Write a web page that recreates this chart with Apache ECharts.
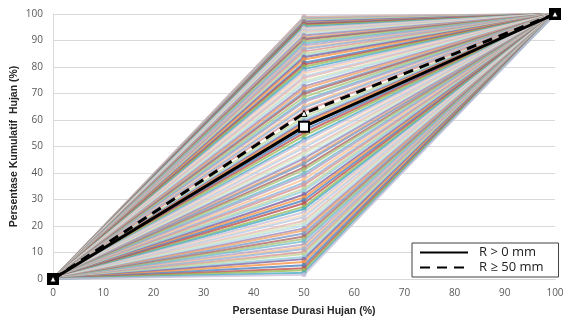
<!DOCTYPE html>
<html lang="id">
<head>
    <meta charset="UTF-8">
    <title>Persentase Kumulatif Hujan</title>
    <script src="https://cdn.jsdelivr.net/npm/echarts@6/dist/echarts.min.js"></script>
    <style>
        html, body { margin: 0; padding: 0; background: #fff; }
        #chart { width: 567px; height: 325px; }
    </style>
</head>
<body>
    <div id="chart"></div>

    <script>
        // durasi hujan (%) - titik awal, tengah, akhir
        var durasi = [0, 50, 100];

        // kumulatif hujan (%) di durasi 50% untuk tiap kejadian hujan
        var nilaiTengah = [
            99, 98.7, 98.4, 98.0, 97.8, 97.4, 97.1, 96.6, 96.3, 96.0, 95.6, 95.2,
            94.7, 94.2, 93.9, 93.2, 92.8, 92.3, 91.9, 91.1, 90.7, 90.4, 89.6, 88.9,
            88.1, 87.3, 86.8, 85.9, 85.0, 84.2, 83.7, 82.8, 81.6, 80.9, 80.1, 79.2,
            78.3, 77.5, 76.4, 75.8, 74.6, 73.9, 72.7, 71.8, 70.6, 69.9, 68.7, 67.5,
            66.8, 65.4, 64.6, 63.3, 61.2, 60.1, 59.3, 58.6, 56.2, 55.1, 54.0, 52.7,
            51.8, 50.4, 49.6, 48.2, 47.3, 46.1, 45.4, 44.2, 43.5, 42.1, 41.2, 39.8,
            38.9, 37.6, 36.3, 35.4, 34.1, 33.2, 31.9, 30.8, 29.7, 28.6, 27.3, 26.4,
            25.2, 24.1, 23.3, 22.0, 21.1, 20.2, 19.1, 18.3, 17.2, 16.0, 15.1, 14.2,
            13.0, 12.1, 11.3, 10.2, 9.4, 8.3, 7.5, 6.4, 5.2, 4.1, 3.3, 2.4, 1.6
        ];

        // kurva rata-rata
        var rataSemua = [0, 57.5, 100];     // R > 0 mm
        var rataLebat = [0, 62.5, 100];     // R >= 50 mm

        var warna = [
            '#B3A2C7', '#FAC090', '#95B3D7', '#D99694', '#C3D69B', '#93CDDD',
            '#8064A2', '#F79646', '#4F81BD', '#C0504D', '#9BBB59', '#4BACC6',
            '#CCC1DA', '#FCD5B5', '#B9CDE5', '#E6B9B8', '#D7E4BD', '#B7DEE8',
            '#A08BBA', '#EFA46A', '#7A9CC8', '#B06866', '#A9C47A', '#72BCD0'
        ];

        var fontTick = "'Open Sans', sans-serif";
        var fontJudul = "'Liberation Sans', sans-serif";

        var series = [];
        nilaiTengah.forEach(function (v, i) {
            series.push({
                type: 'line',
                name: 'kejadian ' + (i + 1),
                data: durasi.map(function (x, j) {
                    return [x, j === 1 ? v : (j === 0 ? 0 : 100)];
                }),
                symbol: 'circle',
                symbolSize: 5,
                silent: true,
                z: 2,
                lineStyle: { width: 2, color: warna[i % warna.length], opacity: 0.8 },
                itemStyle: { color: warna[i % warna.length], opacity: 0.8 }
            });
        });

        // ujung kurva rata-rata diberi kotak hitam, tengahnya kotak putih
        series.push({
            type: 'line',
            name: 'R > 0 mm',
            data: durasi.map(function (x, j) {
                return {
                    value: [x, rataSemua[j]],
                    itemStyle: { color: j === 1 ? '#fff' : '#000' }
                };
            }),
            symbol: 'rect',
            symbolSize: 10,
            z: 5,
            lineStyle: { width: 3, color: '#000' },
            itemStyle: { color: '#fff', borderColor: '#000', borderWidth: 2 }
        });
        series.push({
            type: 'line',
            name: 'R ≥ 50 mm',
            data: durasi.map(function (x, j) { return [x, rataLebat[j]]; }),
            symbol: 'triangle',
            symbolSize: 6,
            z: 6,
            lineStyle: { width: 3, color: '#000', type: [10, 7] },
            itemStyle: { color: '#fff', borderColor: '#000', borderWidth: 1 }
        });

        var chart = echarts.init(document.getElementById('chart'));
        chart.setOption({
            animation: false,
            grid: { left: 53, right: 12, top: 14, bottom: 46, outerBoundsMode: 'none' },
            legend: {
                data: ['R > 0 mm', 'R ≥ 50 mm'],
                orient: 'vertical',
                left: 412,
                top: 243,
                itemWidth: 48,
                itemHeight: 12,
                itemGap: 2,
                padding: [3, 15, 3, 7],
                backgroundColor: '#fff',
                borderColor: '#404040',
                borderWidth: 1,
                itemStyle: { opacity: 0 },
                textStyle: { fontFamily: fontTick, fontSize: 13, color: '#222', padding: [0, 0, 0, 6] }
            },
            xAxis: {
                type: 'value',
                min: 0,
                max: 100,
                interval: 10,
                name: 'Persentase Durasi Hujan (%)',
                nameLocation: 'middle',
                nameGap: 27,
                nameMoveOverlap: false,
                nameTextStyle: { fontFamily: fontJudul, fontWeight: 'bold', fontSize: 10.5, color: '#262626' },
                axisLine: { show: true, lineStyle: { color: '#d9d9d9' } },
                axisTick: { show: false },
                splitLine: { show: false },
                axisLabel: { margin: 9, fontFamily: fontTick, fontSize: 10, color: '#595959' }
            },
            yAxis: {
                type: 'value',
                min: 0,
                max: 100,
                interval: 10,
                name: 'Persentase Kumulatif  Hujan (%)',
                nameLocation: 'middle',
                nameGap: 33,
                nameMoveOverlap: false,
                nameTextStyle: { fontFamily: fontJudul, fontWeight: 'bold', fontSize: 10.5, color: '#262626' },
                axisLine: { show: true, lineStyle: { color: '#d9d9d9' } },
                axisTick: { show: false },
                splitLine: { lineStyle: { color: '#d9d9d9' } },
                axisLabel: { margin: 10, fontFamily: fontTick, fontSize: 10, color: '#595959' }
            },
            series: series
        });
    </script>
</body>
</html>
